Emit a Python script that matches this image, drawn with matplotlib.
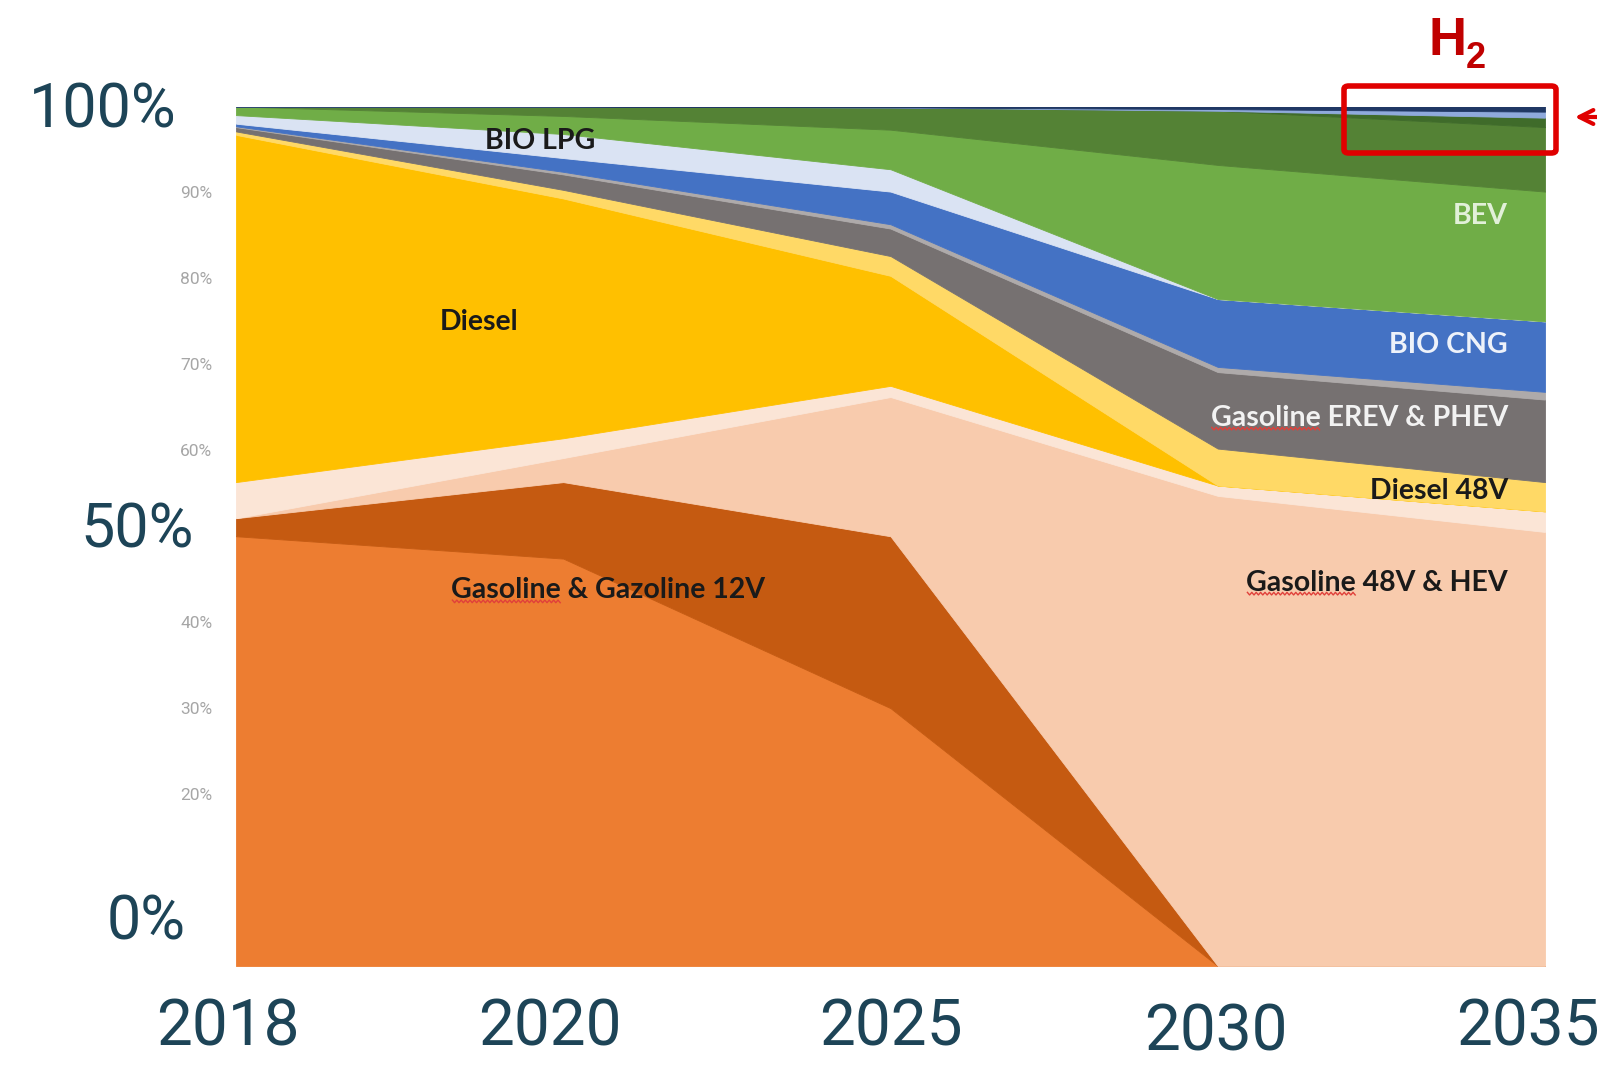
import matplotlib
matplotlib.use("Agg")
import matplotlib.pyplot as plt
import matplotlib.transforms as mtransforms
from matplotlib.patches import FancyBboxPatch
from matplotlib.lines import Line2D
import numpy as np

# ---- data (share of new sales, % stacked, bottom to top) ----
years = ["2018", "2020", "2025", "2030", "2035"]
gasoline = [50.0, 47.4, 30.0, 0.0, 0.0]
gasoline_12v = [2.1, 8.9, 20.0, 0.0, 0.0]
gasoline_48v_hev = [0.0, 2.8, 16.2, 54.7, 50.5]
diesel_12v = [4.2, 2.3, 1.3, 1.2, 2.4]
diesel = [40.4, 27.9, 12.8, 0.0, 0.0]
diesel_48v = [0.4, 1.0, 2.3, 4.3, 3.4]
gasoline_erev_phev = [0.5, 1.8, 3.2, 8.9, 9.6]
diesel_phev = [0.1, 0.3, 0.5, 0.6, 0.9]
bio_cng = [0.3, 1.6, 3.8, 7.9, 8.2]
bio_lpg = [1.0, 2.8, 2.6, 0.0, 0.0]
bev = [1.0, 2.1, 4.6, 15.6, 15.1]
other_ev = [0.0, 1.1, 2.6, 6.3, 7.5]
other_ev2 = [0.0, 0.0, 0.0, 0.0, 1.1]
h2_light = [0.0, 0.0, 0.0, 0.2, 0.7]
h2 = [0.0, 0.0, 0.1, 0.3, 0.6]

layers = [gasoline, gasoline_12v, gasoline_48v_hev, diesel_12v, diesel,
          diesel_48v, gasoline_erev_phev, diesel_phev, bio_cng, bio_lpg,
          bev, other_ev, other_ev2, h2_light, h2]
colors = ["#ED7D31", "#C55A11", "#F8CBAD", "#FBE5D6", "#FFC000",
          "#FFD966", "#767171", "#AEAAAA", "#4472C4", "#DAE3F3",
          "#70AD47", "#548235", "#3F6B2A", "#8FAADC", "#203864"]

W, H = 1597, 1065
fig = plt.figure(figsize=(W / 100, H / 100), dpi=100)
ax = fig.add_axes([236 / W, 1 - 966 / H, (1545 - 236) / W, (966 - 106.5) / H])

x = np.arange(len(years))
polys = ax.stackplot(x, *layers, colors=colors)
for p, c in zip(polys, colors):
    p.set_edgecolor(c)
    p.set_linewidth(0.6)

ax.set_xlim(0, len(years) - 1)
ax.set_ylim(0, 100)
for s in ax.spines.values():
    s.set_visible(False)

teal = "#1D4457"
ax.set_xticks(x)
ax.set_xticklabels(years, fontsize=46, color=teal, family="Roboto")
ax.tick_params(axis="x", length=0, pad=22)
# the slide's year captions are placed by hand: nudge them like the original
shifts = [(-0.08, 0), (-0.13, 0), (0, 0), (-0.02, -0.05), (-0.17, 0)]
for lbl, (dx, dy) in zip(ax.get_xticklabels(), shifts):
    lbl.set_transform(lbl.get_transform() + mtransforms.ScaledTranslation(dx, dy, fig.dpi_scale_trans))

ax.set_yticks([20, 30, 40, 60, 70, 80, 90])
ax.set_yticklabels(["20%", "30%", "40%", "60%", "70%", "80%", "90%"],
                   fontsize=12.5, color="#A6A6A6", family="Roboto")
ax.tick_params(axis="y", length=0, pad=17)

# big axis captions
for txt, px, py in [("100%", 103, 110), ("50%", 137, 530), ("0%", 146, 922)]:
    fig.text(px / W, 1 - py / H, txt, ha="center", va="center", fontsize=44,
             color=teal, family="Roboto")

# in-chart labels
lab = dict(family="Lato", fontweight="bold", fontsize=20.5)
dark = "#1A1A1A"
ax.text(0.93, 96.0, "BIO LPG", ha="center", va="center", color=dark, **lab)
ax.text(0.743, 74.9, "Diesel", ha="center", va="center", color=dark, **lab)
t1 = ax.text(1.138, 43.7, "Gasoline & Gazoline 12V", ha="center", va="center", color=dark, **lab)
ax.text(3.887, 87.3, "BEV", ha="right", va="center", color="#E2F0D9", **lab)
ax.text(3.887, 72.3, "BIO CNG", ha="right", va="center", color="#EEF2FA", **lab)
t2 = ax.text(3.887, 63.8, "Gasoline EREV & PHEV", ha="right", va="center", color="#F2F2F2", **lab)
ax.text(3.887, 55.3, "Diesel 48V", ha="right", va="center", color=dark, **lab)
t3 = ax.text(3.887, 44.6, "Gasoline 48V & HEV", ha="right", va="center", color=dark, **lab)

# red spell-check squiggles under the word "Gasoline", as in the source slide
renderer = fig.canvas.get_renderer()
probe = ax.text(0, 0, "Gasoline", **lab)
word_w = probe.get_window_extent(renderer).width
probe.remove()
for t in (t1, t2, t3):
    bb = t.get_window_extent(renderer)
    xs = np.arange(bb.x0 + 1, bb.x0 + word_w, 2.2)
    ys = bb.y0 + 2 + 1.3 * (-1) ** np.arange(len(xs))
    fig.add_artist(Line2D(xs, ys, transform=mtransforms.IdentityTransform(),
                          color="#E0403A", lw=1.0))

# H2 callout
red = "#C00000"
fig.text(1429 / W, 1 - 55 / H, "H", ha="left", va="baseline", fontsize=38,
         fontweight="bold", color=red, family="Liberation Sans")
fig.text(1466 / W, 1 - 68 / H, "2", ha="left", va="baseline", fontsize=26,
         fontweight="bold", color=red, family="Liberation Sans")
box = FancyBboxPatch((1344 / W, 1 - 153 / H), (1556 - 1344) / W, (153 - 86) / H,
                     boxstyle="round,pad=0,rounding_size=0.003", transform=fig.transFigure,
                     fill=False, edgecolor="#E00000", linewidth=4)
fig.patches.append(box)
box.set_figure(fig)
ax.annotate("", xy=(1572 / W, 1 - 117 / H), xycoords="figure fraction",
            xytext=(1620 / W, 1 - 117 / H), textcoords="figure fraction",
            arrowprops=dict(arrowstyle="->", color="#E00000", lw=3, mutation_scale=25))

fig.savefig("out.png", dpi=100, facecolor="white")
